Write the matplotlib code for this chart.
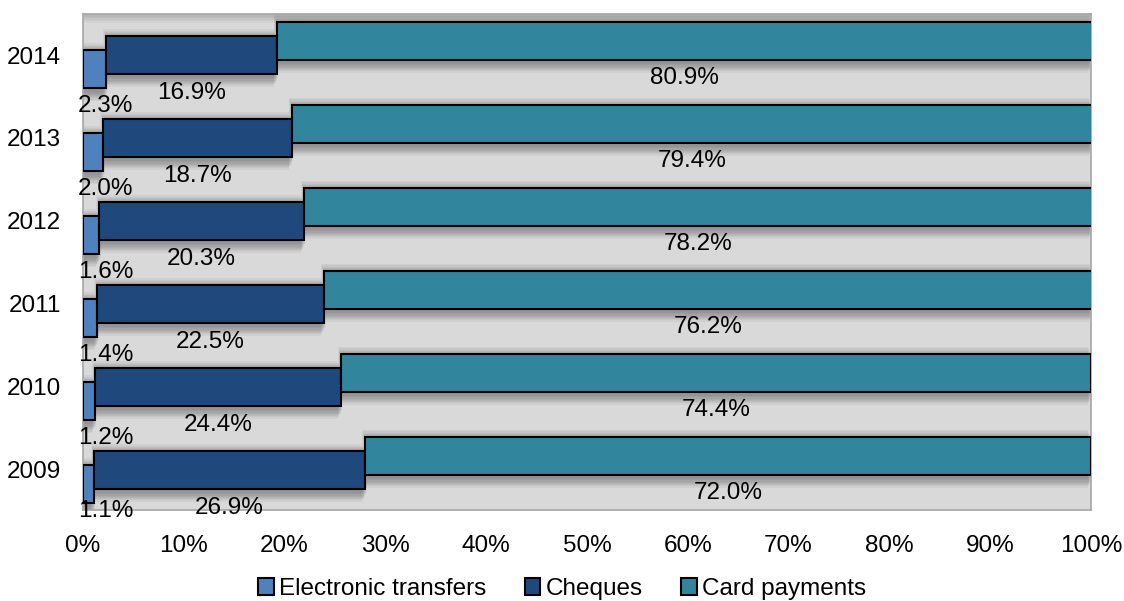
import matplotlib
matplotlib.use("Agg")
import matplotlib.pyplot as plt
import numpy as np

years = ["2009", "2010", "2011", "2012", "2013", "2014"]
electronic = [1.1, 1.2, 1.4, 1.6, 2.0, 2.3]
cheques = [26.9, 24.4, 22.5, 20.3, 18.7, 16.9]
cards = [72.0, 74.4, 76.2, 78.2, 79.4, 80.9]
series_names = ["Electronic transfers", "Cheques", "Card payments"]
colors = ["#4f81bd", "#1f497d", "#31859c"]

plt.rcParams['font.family'] = ['Liberation Sans', 'DejaVu Sans']

fig = plt.figure(figsize=(11.24, 6.01), dpi=100)
ax = fig.add_axes([83/1124, (601-510)/601, (1091-83)/1124, (510-14)/601])
ax.set_facecolor("#d9d9d9")

y = np.arange(len(years))
h = 0.46
off = 0.169
series = [electronic, cheques, cards]
lefts = [np.zeros(len(years)), np.array(electronic), np.array(electronic) + np.array(cheques)]
offsets = [-off, 0.0, off]

px_x = 100/1008
px_y = 1/83

# soft shadows
for s, (vals, lf, o) in enumerate(zip(series, lefts, offsets)):
    for k in range(1, 9):
        ax.barh(y + o - 3*px_y, vals, left=lf - k*px_x*0.6 + 2*px_x,
                height=h + 2*k*px_y*1.2, color="black", alpha=0.045,
                linewidth=0, zorder=1)

for s, (vals, lf, o) in enumerate(zip(series, lefts, offsets)):
    ax.barh(y + o, vals, left=lf, height=h, color=colors[s],
            edgecolor="black", linewidth=1.5, zorder=3 + s,
            label=series_names[s])

fs = 17.5
for i in range(len(years)):
    ax.text(-0.5, max(y[i] - off - 0.45, -0.495), f"{electronic[i]:.1f}%", ha="left",
            va="center", fontsize=fs, zorder=10, clip_on=False)
    cx = lefts[1][i] + cheques[i]/2
    ax.text(cx, max(y[i] - 0.46, -0.47), f"{cheques[i]:.1f}%", ha="center",
            va="center", fontsize=fs, zorder=10, clip_on=False)
    cx = lefts[2][i] + cards[i]/2
    ax.text(cx, y[i] + off - 0.45, f"{cards[i]:.1f}%", ha="center",
            va="center", fontsize=fs, zorder=10, clip_on=False)

ax.set_xlim(0, 100)
ax.set_ylim(-0.482, 5.494)
ax.set_xticks(np.arange(0, 101, 10))
ax.set_xticklabels([f"{v}%" for v in range(0, 101, 10)], fontsize=fs)
ax.set_yticks(y)
ax.set_yticklabels(years, fontsize=fs)
ax.tick_params(length=0, pad=16)
ax.tick_params(axis="x", pad=18)
for sp in ax.spines.values():
    sp.set_color("#a6a6a6")
    sp.set_linewidth(1.2)

for k in range(6):
    ax.axhspan(5.494 - (k+1)*px_y*1.5, 5.494, color="black", alpha=0.03, linewidth=0, zorder=0.5)

leg = fig.legend(loc="center", bbox_to_anchor=(0.5, 1 - 589/601), ncol=3,
                 frameon=False, fontsize=fs, handlelength=0.65, handleheight=0.65,
                 handletextpad=0.2, columnspacing=1.6, borderpad=0)
for p in leg.get_patches():
    p.set_linewidth(1.5)

fig.savefig("out.png", dpi=100)
